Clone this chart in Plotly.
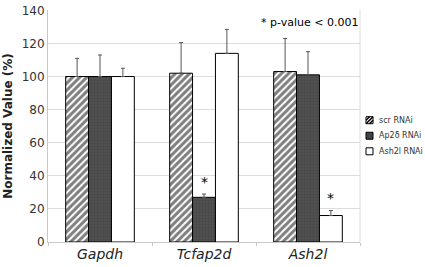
import plotly.graph_objects as go

genes = ["Gapdh", "Tcfap2d", "Ash2l"]
series = ["scr RNAi", "Ap2δ RNAi", "Ash2l RNAi"]
values = {
    "scr RNAi": [100, 102, 103],
    "Ap2δ RNAi": [100, 27, 101],
    "Ash2l RNAi": [100, 114, 16],
}
errors = {
    "scr RNAi": [11, 18.5, 20],
    "Ap2δ RNAi": [13, 2, 14],
    "Ash2l RNAi": [5, 14.5, 3],
}
y_ticks = [0, 20, 40, 60, 80, 100, 120, 140]
# significance stars: (category position offset, y value)
star_positions = [(1.0, 36), (2.22, 26.5)]

styles = {
    "scr RNAi": dict(color="white", line=dict(color="black", width=1),
                     pattern=dict(shape="/", fgcolor="black", bgcolor="white", size=5, solidity=0.6)),
    "Ap2δ RNAi": dict(color="#4a4a4a", line=dict(color="black", width=1),
                      pattern=dict(shape="+", fgcolor="#3c3c3c", bgcolor="#505050", size=3, solidity=0.3)),
    "Ash2l RNAi": dict(color="white", line=dict(color="black", width=1)),
}

fig = go.Figure()
for s in series:
    fig.add_trace(go.Bar(
        x=genes, y=values[s], name=s, marker=styles[s],
        error_y=dict(type="data", array=errors[s], arrayminus=[0, 0, 0], symmetric=False,
                     color="#555555", thickness=1, width=2),
    ))

for sx, sy in star_positions:
    fig.add_annotation(x=sx, y=sy, text="*", showarrow=False, yanchor="middle",
                       font=dict(size=14, color="#000000", family="DejaVu Sans"))

fig.add_annotation(x=1, xref="paper", xanchor="right", y=0.945, yref="paper", yanchor="middle",
                   text="* p-value < 0.001", showarrow=False,
                   font=dict(size=11, color="#000000", family="DejaVu Sans"))

# custom legend at the right of the plot
legend_y = [0.525, 0.458, 0.391]
hatch_path = "M6,-3.5 L13,3.5 M6,0 L9.5,3.5 M9.5,-3.5 L13,0"
for name, ly in zip(series, legend_y):
    fill = "#444444" if name == "Ap2δ RNAi" else "white"
    fig.add_shape(type="rect", xref="paper", yref="paper", xsizemode="pixel", ysizemode="pixel",
                  xanchor=1, yanchor=ly, x0=6, x1=13, y0=-3.5, y1=3.5,
                  fillcolor=fill, line=dict(color="black", width=1))
    if name == "scr RNAi":
        fig.add_shape(type="path", xref="paper", yref="paper", xsizemode="pixel", ysizemode="pixel",
                      xanchor=1, yanchor=ly, path=hatch_path, line=dict(color="black", width=1.5))
    fig.add_annotation(x=1, xref="paper", xshift=17, xanchor="left", y=ly, yref="paper", yanchor="middle",
                       text=name, showarrow=False, font=dict(size=8, color="#333333", family="DejaVu Sans"))

fig.update_layout(
    width=425, height=267,
    margin=dict(l=48, r=65, t=4, b=25),
    paper_bgcolor="white", plot_bgcolor="white",
    barmode="group", bargap=0.34, bargroupgap=0,
    font=dict(family="DejaVu Sans", color="#333333"),
    showlegend=False,
    xaxis=dict(showline=True, linecolor="#c8c8c8", linewidth=1,
               tickfont=dict(size=14, color="#222222", family="DejaVu Sans", style="italic"),
               tickson="boundaries", ticks="outside", ticklen=3, tickcolor="#c8c8c8",
               ticklabelstandoff=-1, showgrid=False),
    yaxis=dict(range=[0, 140.2], tickvals=y_ticks, showline=True, linecolor="#c8c8c8", linewidth=1,
               gridcolor="#dcdcdc", gridwidth=1, tickfont=dict(size=12, color="#333333"),
               ticklabeloverflow="allow",
               title=dict(text="<b>Normalized Value (%)</b>", font=dict(size=12, color="#222222"), standoff=6),
               zeroline=False, ticks=""),
)
fig.add_shape(type="line", xref="paper", yref="paper", x0=1, x1=1, y0=0, y1=1,
              line=dict(color="#dcdcdc", width=1))

fig.write_html("out.html", config={"displayModeBar": False},
               post_script="document.body.style.margin='0';")
